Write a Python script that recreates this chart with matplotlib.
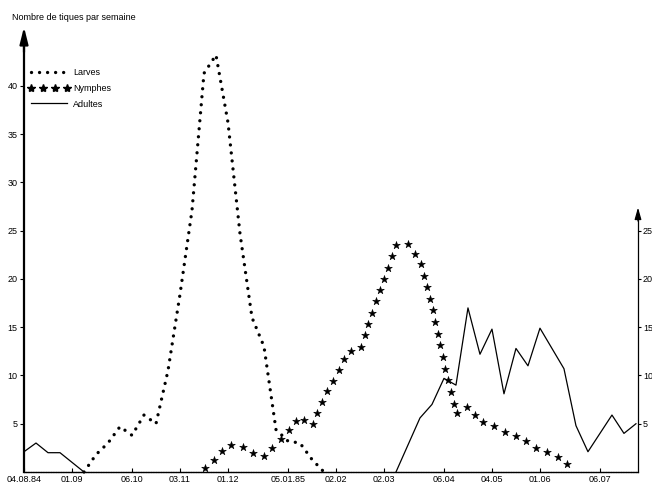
import numpy as np
import matplotlib
matplotlib.use("Agg")
import matplotlib.pyplot as plt
import matplotlib.colors as mcolors
from matplotlib.patheffects import AbstractPathEffect
from matplotlib.markers import MarkerStyle
from matplotlib.path import Path
from matplotlib.transforms import Affine2D, IdentityTransform
from matplotlib.lines import Line2D

plt.rcParams['font.family'] = ['Liberation Sans', 'DejaVu Sans']

# ---------------- data (weeks since 04.08.84) ----------------
tick_weeks = [0, 4, 9, 13, 17, 22, 26, 30, 35, 39, 43, 48]
tick_labels = ["04.08.84", "01.09", "06.10", "03.11", "01.12", "05.01.85",
               "02.02", "02.03", "06.04", "04.05", "01.06", "06.07"]

larves_weeks = list(range(5, 26))
larves = [0, 1.8, 3.0, 4.7, 3.8, 5.9, 5.0, 10.5, 18.4, 27.1, 41.3, 43.2,
          36.2, 24.7, 16.0, 13.0, 4.4, 3.2, 3.0, 1.3, 0]

nymphes_weeks = list(range(15, 47))
nymphes = [0.3, 1.5, 2.8, 2.8, 2.0, 1.6, 2.9, 4.2, 5.8, 4.8,
           7.8, 9.9, 12.5, 12.7, 16.5, 20.1, 23.5, 23.6, 21.9, 17.0,
           11.4, 6.0, 6.8, 5.2, 4.95, 4.2, 3.7, 3.1, 2.2, 2.0,
           1.2, 0]

adultes_weeks_a = [0, 1, 2, 3, 4, 5]
adultes_a = [2.1, 3.0, 2.0, 2.0, 1.0, 0]
adultes_weeks_b = list(range(31, 52))
adultes_b = [0, 2.8, 5.6, 7.0, 9.7, 9.0, 17.0, 12.2, 14.8, 8.1, 12.8,
             11.0, 14.9, 12.8, 10.7, 4.8, 2.1, 4.0, 5.9, 4.0, 5.0]

left_ticks = [5, 10, 15, 20, 25, 30, 35, 40]
right_ticks = [5, 10, 15, 20, 25]


class MarkersAlongPath(AbstractPathEffect):
    """Draw markers at equal visual distances along the drawn line."""
    def __init__(self, marker='*', size=5.5, spacing=8.6, color='k', start=0.0):
        super().__init__()
        self.marker = MarkerStyle(marker)
        self.size = size
        self.spacing = spacing
        self.color = color
        self.start = start

    def draw_path(self, renderer, gc, tpath, affine, rgbFace=None):
        verts = affine.transform(tpath.vertices)
        verts = verts[np.isfinite(verts).all(axis=1)]
        seg = np.diff(verts, axis=0)
        seglen = np.hypot(seg[:, 0], seg[:, 1])
        cum = np.concatenate([[0], np.cumsum(seglen)])
        step = renderer.points_to_pixels(self.spacing)
        d = np.arange(renderer.points_to_pixels(self.start), cum[-1] + 1e-6, step)
        xs = np.interp(d, cum, verts[:, 0])
        ys = np.interp(d, cum, verts[:, 1])
        pts = Path(np.column_stack([xs, ys]))
        mpath = self.marker.get_path()
        mtrans = self.marker.get_transform() + Affine2D().scale(
            renderer.points_to_pixels(self.size))
        gc0 = renderer.new_gc()
        gc0.copy_properties(gc)
        gc0.set_linewidth(0.4)
        gc0.set_foreground(self.color)
        gc0.set_dashes(0, None)
        renderer.draw_markers(gc0, mpath, mtrans, pts, IdentityTransform(),
                              mcolors.to_rgba(self.color))
        gc0.restore()


fig = plt.figure(figsize=(6.52, 4.84), dpi=100)
ax = fig.add_axes([24 / 652, 12 / 484, 614 / 652, 445 / 484])
ymax = 46.1
ax.set_xlim(0, 51.17)
ax.set_ylim(0, ymax)

# larvae: round dots
ax.plot(larves_weeks, larves, color='k', lw=2.4,
        linestyle=(0, (0.01, 2.4)), dash_capstyle='round', clip_on=False)
# nymphs: stars along the curve
ax.plot(nymphes_weeks, nymphes, color='k', lw=1,
        path_effects=[MarkersAlongPath('*', size=5.8, spacing=8.6, start=1.0)],
        clip_on=False)
# adults: solid line
ax.plot(adultes_weeks_a, adultes_a, color='k', lw=0.9, clip_on=False)
ax.plot(adultes_weeks_b, adultes_b, color='k', lw=0.9, clip_on=False)

# spines
ax.spines['top'].set_visible(False)
ax.spines['left'].set_linewidth(1.6)
ax.spines['left'].set_bounds(0, 44.0)
ax.spines['bottom'].set_linewidth(1.0)
ax.spines['bottom'].set_linestyle((0, (1.0, 0.8)))
ax.spines['right'].set_linewidth(0.9)
ax.spines['right'].set_bounds(0, 26.5)

# arrows on the vertical axes
ax.annotate('', xy=(0, ymax), xytext=(0, 43.5), xycoords=('axes fraction', 'data'),
            arrowprops=dict(arrowstyle='-|>,head_length=1.0,head_width=0.25',
                            color='k', lw=1.6, shrinkA=0, shrinkB=0),
            annotation_clip=False)
ax.annotate('', xy=(1, 27.4), xytext=(1, 26.0), xycoords=('axes fraction', 'data'),
            arrowprops=dict(arrowstyle='-|>,head_length=0.7,head_width=0.2',
                            color='k', lw=0.9, shrinkA=0, shrinkB=0),
            annotation_clip=False)

ax.set_yticks(left_ticks)
ax.set_yticklabels([str(t) for t in left_ticks])
ax.tick_params(axis='y', direction='out', length=3, width=0.8, pad=1.5,
               labelsize=6.5)
ax.set_xticks(tick_weeks)
ax.set_xticklabels(tick_labels)
ax.tick_params(axis='x', direction='in', length=3, width=0.8, pad=2,
               labelsize=6.5)

ax2 = ax.twinx()
ax2.set_ylim(0, ymax)
for s in ['top', 'left', 'bottom', 'right']:
    ax2.spines[s].set_visible(False)
ax2.set_yticks(right_ticks)
ax2.set_yticklabels([str(t) for t in right_ticks])
ax2.tick_params(axis='y', direction='out', length=2, width=0.8, pad=1.5,
                labelsize=6.5)

fig.text(12 / 652, 1 - 18 / 484, "Nombre de tiques par semaine",
         fontsize=6.5, ha='left', va='center')

handles = [
    Line2D([], [], color='k', lw=2.4, linestyle=(0, (0.01, 2.4)),
           dash_capstyle='round'),
    Line2D([], [], color='k', ls='none', marker='*', ms=6.0),
    Line2D([], [], color='k', lw=0.9),
]
leg = ax.legend(handles, ["Larves", "Nymphes", "Adultes"], numpoints=4,
                frameon=False, fontsize=6.5, handlelength=4.6,
                handletextpad=0.4, labelspacing=0.75,
                loc='upper left', bbox_to_anchor=(28 / 652, 1 - 68 / 484),
                bbox_transform=fig.transFigure, borderpad=0, borderaxespad=0)

fig.savefig("out.png", dpi=100)
